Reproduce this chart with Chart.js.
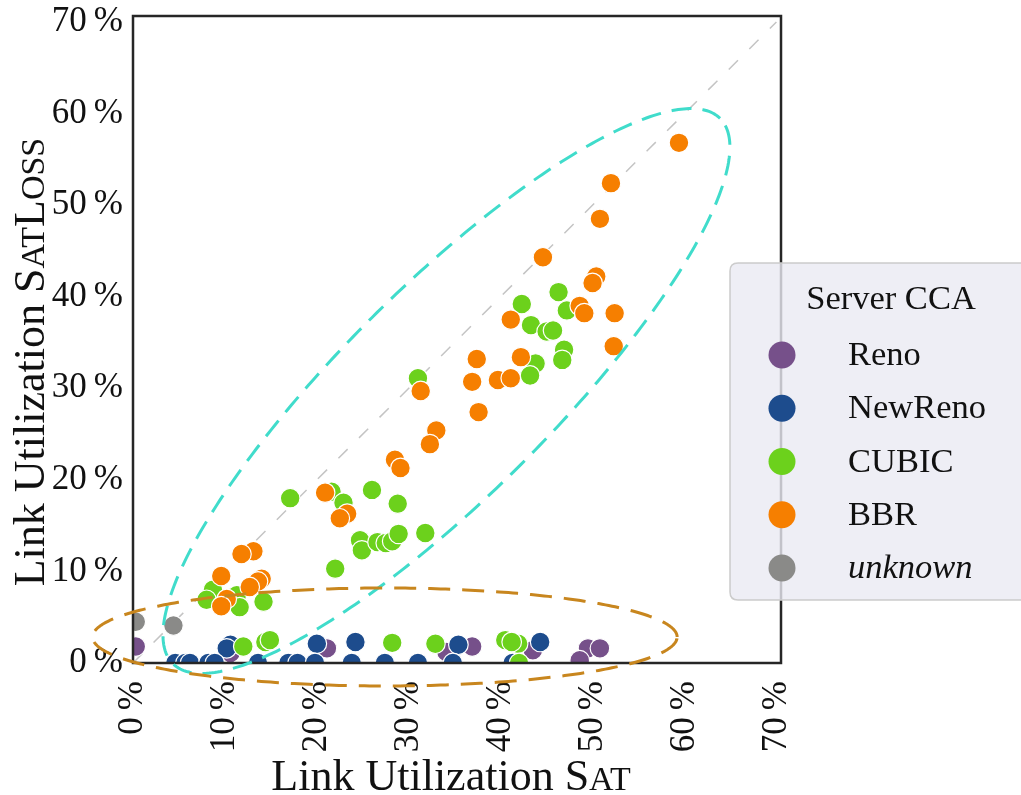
<!DOCTYPE html>
<html>
<head>
<meta charset="utf-8">
<script src="https://cdn.jsdelivr.net/npm/chart.js@4.4.0/dist/chart.umd.min.js"></script>
<style>
  html, body { margin: 0; padding: 0; background: #ffffff; }
  #wrap { width: 1021px; height: 795px; position: relative; overflow: hidden; }
</style>
</head>
<body>
<div id="wrap"><canvas id="chart" width="1021" height="795"></canvas></div>
<script>
// Axis ticks (percent)
const tickValues = [0, 10, 20, 30, 40, 50, 60, 70];

// Link utilization: SAT (x) vs SATLOSS (y), in percent, per server CCA
const renoX = [0.3, 21.1, 36.9, 34.1, 49.5, 50.8, 48.6, 10.6, 43.5];
const renoY = [1.8, 1.6, 1.8, 1.2, 1.6, 1.6, 0.3, 1.1, 1.4];

const newRenoX = [10.6, 10.2, 20.0, 24.2, 35.4, 44.3,
                  4.6, 5.7, 6.2, 8.2, 8.9, 13.6, 16.9, 17.9, 19.8, 23.8, 27.4, 31.0, 34.8, 41.3];
const newRenoY = [2.0, 1.6, 2.1, 2.3, 2.0, 2.3,
                  0, 0, 0, 0, 0, 0, 0, 0, 0, 0, 0, 0, 0, 0];

const cubicX = [46.3, 42.3, 47.2, 43.3, 45.0, 45.7, 46.9, 46.7, 43.8, 43.2,
                31.0, 21.6, 22.9, 26.0, 28.8, 17.1, 22.0, 24.7, 24.9, 26.6,
                27.5, 28.2, 28.9, 31.8, 8.7, 8.0, 11.3, 11.6, 14.2, 12.0,
                14.4, 14.9, 28.2, 32.9, 40.5, 41.9, 42.0, 41.2];
const cubicY = [40.5, 39.2, 38.5, 36.9, 36.2, 36.3, 34.2, 33.1, 32.7, 31.4,
                31.1, 18.7, 17.5, 18.9, 17.4, 18.0, 10.3, 13.4, 12.3, 13.2,
                13.1, 13.3, 14.1, 14.2, 8.0, 6.9, 7.4, 6.1, 6.7, 1.8,
                2.3, 2.5, 2.2, 2.1, 2.5, 2.1, 0, 2.3];

const bbrX = [59.4, 52.0, 50.8, 44.6, 50.4, 50.0, 48.6, 49.1, 52.4, 41.1,
              52.3, 42.2, 37.4, 36.9, 39.7, 41.1, 31.3, 37.6, 33.0, 32.3,
              28.5, 29.1, 20.9, 23.3, 22.5, 13.1, 11.8, 9.6, 14.0, 13.6,
              12.7, 10.2, 9.6];
const bbrY = [56.8, 52.4, 48.5, 44.3, 42.2, 41.5, 39.0, 38.2, 38.2, 37.5,
              34.6, 33.4, 33.2, 30.7, 30.9, 31.1, 29.7, 27.4, 25.4, 23.9,
              22.2, 21.3, 18.6, 16.3, 15.8, 12.2, 11.9, 9.5, 9.2, 8.9,
              8.3, 7.0, 6.2];

const unknownX = [0.3, 4.4];
const unknownY = [4.5, 4.1];

// Reference line y = x
const diagX = [0, 70];
const diagY = [0, 70];

// Highlight ellipses: centre (x, y), semi-axes (a, b), rotation in degrees (data space)
const bandEllipse = { cx: 34.1, cy: 29.7, a: 42.1, b: 11.4, rot: 45 };
const floorEllipse = { cx: 27.4, cy: 2.84, a: 31.8, b: 5.35, rot: 0 };

const seriesNames = ['Reno', 'NewReno', 'CUBIC', 'BBR', 'unknown'];
const seriesColors = ['#76508a', '#1d4c8d', '#6cd11c', '#f67f00', '#8a8a88'];

const serif = "'Liberation Serif', 'Times New Roman', serif";
const textColor = '#111111';

const toPoints = (xs, ys) => xs.map((x, i) => ({ x, y: ys[i] }));

function scatterSet(idx, xs, ys, order) {
  return {
    label: seriesNames[idx],
    data: toPoints(xs, ys),
    backgroundColor: seriesColors[idx],
    borderColor: '#ffffff',
    borderWidth: 1.2,
    pointRadius: 9.8,
    pointHoverRadius: 9.8,
    order: order,
    clip: 0
  };
}

// Frame around the plotting area
const framePlugin = {
  id: 'frame',
  afterDatasetsDraw(chart) {
    const { ctx, chartArea: a } = chart;
    ctx.save();
    ctx.strokeStyle = '#262626';
    ctx.lineWidth = 2.5;
    ctx.strokeRect(a.left, a.top, a.right - a.left, a.bottom - a.top);
    ctx.restore();
  }
};

// Dashed ellipses drawn in data coordinates
function traceEllipse(chart, e, color, width, dash) {
  const xs = chart.scales.x, ys = chart.scales.y, ctx = chart.ctx;
  const phi = e.rot * Math.PI / 180;
  ctx.save();
  ctx.beginPath();
  const n = 360;
  for (let i = 0; i <= n; i++) {
    const t = (i / n) * 2 * Math.PI;
    const dx = e.a * Math.cos(t) * Math.cos(phi) - e.b * Math.sin(t) * Math.sin(phi);
    const dy = e.a * Math.cos(t) * Math.sin(phi) + e.b * Math.sin(t) * Math.cos(phi);
    const px = xs.getPixelForValue(e.cx + dx);
    const py = ys.getPixelForValue(e.cy + dy);
    if (i === 0) ctx.moveTo(px, py); else ctx.lineTo(px, py);
  }
  ctx.closePath();
  ctx.strokeStyle = color;
  ctx.lineWidth = width;
  ctx.setLineDash(dash);
  ctx.lineCap = 'butt';
  ctx.stroke();
  ctx.restore();
}

const ellipsePlugin = {
  id: 'ellipses',
  afterDatasetsDraw(chart) {
    traceEllipse(chart, bandEllipse, '#40dccb', 3, [20, 11]);
    traceEllipse(chart, floorEllipse, '#c8861e', 3, [22, 12]);
  }
};

// Axis titles with small-caps subscripts
function drawMixed(ctx, parts, x, y, align) {
  let total = 0;
  parts.forEach(p => { ctx.font = p.size + 'px ' + serif; p.w = ctx.measureText(p.t).width; total += p.w; });
  let cur = align === 'center' ? x - total / 2 : x;
  parts.forEach(p => {
    ctx.font = p.size + 'px ' + serif;
    ctx.fillText(p.t, cur, y);
    cur += p.w;
  });
  return total;
}

const titlePlugin = {
  id: 'axisTitles',
  afterDraw(chart) {
    const ctx = chart.ctx;
    const big = 44, small = 34;
    ctx.save();
    ctx.fillStyle = textColor;
    ctx.textBaseline = 'alphabetic';
    ctx.textAlign = 'left';
    drawMixed(ctx, [
      { t: 'Link Utilization S', size: big },
      { t: 'AT', size: small }
    ], 451, 790, 'center');
    ctx.translate(44, 362);
    ctx.rotate(-Math.PI / 2);
    drawMixed(ctx, [
      { t: 'Link Utilization S', size: big },
      { t: 'AT', size: small },
      { t: 'L', size: big },
      { t: 'OSS', size: small }
    ], 0, 0, 'center');
    ctx.restore();
  }
};

// Legend box overlapping the right edge of the plot
const legendPlugin = {
  id: 'cornerLegend',
  afterDraw(chart) {
    const ctx = chart.ctx;
    const left = 730, top = 263, right = 1040, bottom = 600, r = 8;
    ctx.save();
    ctx.beginPath();
    ctx.moveTo(left + r, top);
    ctx.lineTo(right - r, top);
    ctx.quadraticCurveTo(right, top, right, top + r);
    ctx.lineTo(right, bottom - r);
    ctx.quadraticCurveTo(right, bottom, right - r, bottom);
    ctx.lineTo(left + r, bottom);
    ctx.quadraticCurveTo(left, bottom, left, bottom - r);
    ctx.lineTo(left, top + r);
    ctx.quadraticCurveTo(left, top, left + r, top);
    ctx.closePath();
    ctx.fillStyle = 'rgba(234, 234, 242, 0.8)';
    ctx.fill();
    ctx.strokeStyle = '#cccccc';
    ctx.lineWidth = 1.5;
    ctx.stroke();

    ctx.fillStyle = textColor;
    ctx.textBaseline = 'middle';
    ctx.textAlign = 'center';
    ctx.font = '34.5px ' + serif;
    ctx.fillText('Server CCA', 891, 300);

    const sets = chart.data.datasets.filter(d => seriesNames.includes(d.label));
    sets.forEach((d, i) => {
      const y = 355 + i * 53.25;
      ctx.beginPath();
      ctx.arc(782, y, 13.5, 0, Math.PI * 2);
      ctx.fillStyle = d.backgroundColor;
      ctx.fill();
      ctx.fillStyle = textColor;
      ctx.textAlign = 'left';
      ctx.font = (d.label === 'unknown' ? 'italic ' : '') + '34.5px ' + serif;
      ctx.fillText(d.label, 848, y + 1);
    });
    ctx.restore();
  }
};

const pctLabel = v => v + '\u2009%';

new Chart(document.getElementById('chart'), {
  type: 'scatter',
  data: {
    datasets: [
      scatterSet(0, renoX, renoY, 5),
      scatterSet(1, newRenoX, newRenoY, 4),
      scatterSet(2, cubicX, cubicY, 2),
      scatterSet(3, bbrX, bbrY, 1),
      scatterSet(4, unknownX, unknownY, 3),
      {
        label: 'y = x',
        type: 'line',
        data: toPoints(diagX, diagY),
        borderColor: '#c4c4c4',
        borderWidth: 1.5,
        borderDash: [13, 16],
        pointRadius: 0,
        fill: false,
        order: 10,
        clip: 0
      }
    ]
  },
  options: {
    responsive: false,
    animation: false,
    devicePixelRatio: 1,
    layout: { padding: { top: 16, right: 240, left: 0, bottom: 0 } },
    plugins: { legend: { display: false }, tooltip: { enabled: false } },
    scales: {
      x: {
        type: 'linear',
        min: 0,
        max: 70.5,
        afterBuildTicks: s => { s.ticks = tickValues.map(v => ({ value: v })); },
        ticks: {
          callback: pctLabel,
          font: { family: serif, size: 35 },
          color: textColor,
          minRotation: 90,
          maxRotation: 90,
          padding: 18,
          autoSkip: false
        },
        grid: { display: false, drawTicks: false },
        border: { display: false },
        afterFit: s => { s.height = 132; s.paddingLeft = 0; s.paddingRight = 0; }
      },
      y: {
        type: 'linear',
        min: 0,
        max: 70.65,
        afterBuildTicks: s => { s.ticks = tickValues.map(v => ({ value: v })); },
        ticks: {
          callback: pctLabel,
          font: { family: serif, size: 35 },
          color: textColor,
          padding: 10,
          autoSkip: false
        },
        grid: { display: false, drawTicks: false },
        border: { display: false },
        afterFit: s => { s.width = 133; s.paddingTop = 0; s.paddingBottom = 0; }
      }
    }
  },
  plugins: [framePlugin, ellipsePlugin, titlePlugin, legendPlugin]
});
</script>
</body>
</html>
